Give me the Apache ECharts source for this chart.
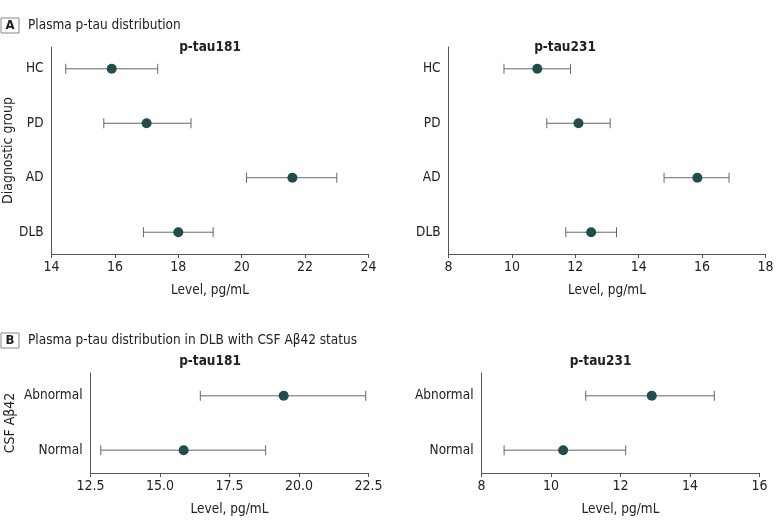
<!DOCTYPE html>
<html><head><meta charset="utf-8">
<script src="https://cdn.jsdelivr.net/npm/echarts@6/dist/echarts.min.js"></script>
<style>html,body{margin:0;padding:0;background:#fff}#c{width:783px;height:528px}</style>
</head><body><div id="c"></div><script>
// ---- data ----
const groupsA = ['HC', 'PD', 'AD', 'DLB'];
const tau181A_mean = [15.9, 17.0, 21.6, 18.0];
const tau181A_low  = [14.45, 15.65, 20.15, 16.9];
const tau181A_high = [17.35, 18.4, 23.0, 19.1];
const tau231A_mean = [10.8, 12.1, 15.85, 12.5];
const tau231A_low  = [9.75, 11.1, 14.8, 11.7];
const tau231A_high = [11.85, 13.1, 16.85, 13.3];

const groupsB = ['Abnormal', 'Normal'];
const tau181B_mean = [19.45, 15.85];
const tau181B_low  = [16.45, 12.87];
const tau181B_high = [22.4, 18.8];
const tau231B_mean = [12.9, 10.35];
const tau231B_low  = [11.0, 8.65];
const tau231B_high = [14.7, 12.15];

const axisA181 = { min: 14, max: 24, interval: 2 };
const axisA231 = { min: 8, max: 18, interval: 2 };
const axisB181 = { min: 12.5, max: 22.5, interval: 2.5 };
const axisB231 = { min: 8, max: 16, interval: 2 };

const FONT = "'Liberation Sans Narrow', 'DejaVu Sans Condensed', sans-serif";
const AXC = '#555';
const TXT = '#222';
const DOT = '#1f4e4b';
const ERR = '#666';
const FS = 13.5;

const chart = echarts.init(document.getElementById('c'), null, { renderer: 'canvas' });

const grids = [
  { left: 51.5, top: 47, width: 317, height: 207 },
  { left: 448.5, top: 47, width: 317, height: 207 },
  { left: 90.5, top: 373, width: 278, height: 100 },
  { left: 481.5, top: 373, width: 278, height: 100 }
];

function xAx(gi, ax, fmt) {
  return {
    type: 'value', gridIndex: gi, min: ax.min, max: ax.max, interval: ax.interval,
    splitLine: { show: false },
    axisLine: { show: true, onZero: false, lineStyle: { color: AXC, width: 1 } },
    axisTick: { show: true, length: 4, lineStyle: { color: AXC } },
    axisLabel: { color: TXT, fontSize: FS + 0.5, fontFamily: FONT, margin: 6, formatter: fmt },
    name: 'Level, pg/mL', nameLocation: 'middle', nameGap: 29,
    nameTextStyle: { color: TXT, fontSize: FS, fontFamily: FONT }
  };
}
function yAx(gi, cats, pad, name) {
  const vals = cats.map((c, i) => i);
  return {
    type: 'value', gridIndex: gi, inverse: true, min: -pad, max: cats.length - 1 + pad,
    splitLine: { show: false },
    axisLine: { show: true, onZero: false, lineStyle: { color: AXC, width: 1 } },
    axisTick: { show: false },
    axisLabel: {
      customValues: vals, color: TXT, fontSize: FS, fontFamily: FONT, margin: 8,
      formatter: v => cats[Math.round(v)]
    },
    name: name, nameLocation: 'middle', nameRotate: 90, nameGap: name === 'CSF Aβ42' ? 73 : 35,
    nameTextStyle: { color: TXT, fontSize: FS + 0.5, fontFamily: FONT }
  };
}

function errSeries(gi, low, high) {
  return {
    type: 'custom', xAxisIndex: gi, yAxisIndex: gi, z: 2,
    data: low.map((l, i) => [l, high[i], i]),
    encode: { x: [0, 1], y: 2 },
    renderItem: function (params, api) {
      const y = api.value(2);
      const p1 = api.coord([api.value(0), y]);
      const p2 = api.coord([api.value(1), y]);
      const h = 5;
      const st = { stroke: ERR, lineWidth: 1 };
      return {
        type: 'group', children: [
          { type: 'line', shape: { x1: p1[0], y1: p1[1], x2: p2[0], y2: p2[1] }, style: st },
          { type: 'line', shape: { x1: p1[0], y1: p1[1] - h, x2: p1[0], y2: p1[1] + h }, style: st },
          { type: 'line', shape: { x1: p2[0], y1: p2[1] - h, x2: p2[0], y2: p2[1] + h }, style: st }
        ]
      };
    }
  };
}
function dotSeries(gi, mean) {
  return {
    type: 'scatter', xAxisIndex: gi, yAxisIndex: gi, z: 3,
    symbol: 'circle', symbolSize: 10,
    itemStyle: { color: DOT, opacity: 1 },
    data: mean.map((m, i) => [m, i])
  };
}

function title(text, x, y) {
  return { type: 'text', x: x, y: y, style: { text: text, fill: TXT, font: 'bold ' + FS + 'px ' + FONT, textAlign: 'center', textVerticalAlign: 'middle' } };
}
function panel(letter, text, y) {
  return [
    { type: 'rect', shape: { x: 1, y: y - 7.5, width: 18, height: 15 }, style: { fill: 'none', stroke: '#888', lineWidth: 1 } },
    { type: 'text', x: 10, y: y, style: { text: letter, fill: TXT, font: 'bold 13px ' + FONT, textAlign: 'center', textVerticalAlign: 'middle' } },
    { type: 'text', x: 28, y: y, style: { text: text, fill: TXT, font: FS + 'px ' + FONT, textAlign: 'left', textVerticalAlign: 'middle' } }
  ];
}

chart.setOption({
  animation: false,
  backgroundColor: '#fff',
  grid: grids,
  xAxis: [
    xAx(0, axisA181),
    xAx(1, axisA231),
    xAx(2, axisB181, v => v.toFixed(1)),
    xAx(3, axisB231)
  ],
  yAxis: [
    yAx(0, groupsA, 0.4, 'Diagnostic group'),
    yAx(1, groupsA, 0.4, ''),
    yAx(2, groupsB, 0.42, 'CSF Aβ42'),
    yAx(3, groupsB, 0.42, '')
  ],
  series: [
    errSeries(0, tau181A_low, tau181A_high), dotSeries(0, tau181A_mean),
    errSeries(1, tau231A_low, tau231A_high), dotSeries(1, tau231A_mean),
    errSeries(2, tau181B_low, tau181B_high), dotSeries(2, tau181B_mean),
    errSeries(3, tau231B_low, tau231B_high), dotSeries(3, tau231B_mean)
  ],
  graphic: [
    ...panel('A', 'Plasma p-tau distribution', 25.5),
    ...panel('B', 'Plasma p-tau distribution in DLB with CSF Aβ42 status', 340.5),
    title('p-tau181', 210, 47),
    title('p-tau231', 565, 47),
    title('p-tau181', 210, 361),
    title('p-tau231', 600.5, 361)
  ]
});
</script></body></html>
